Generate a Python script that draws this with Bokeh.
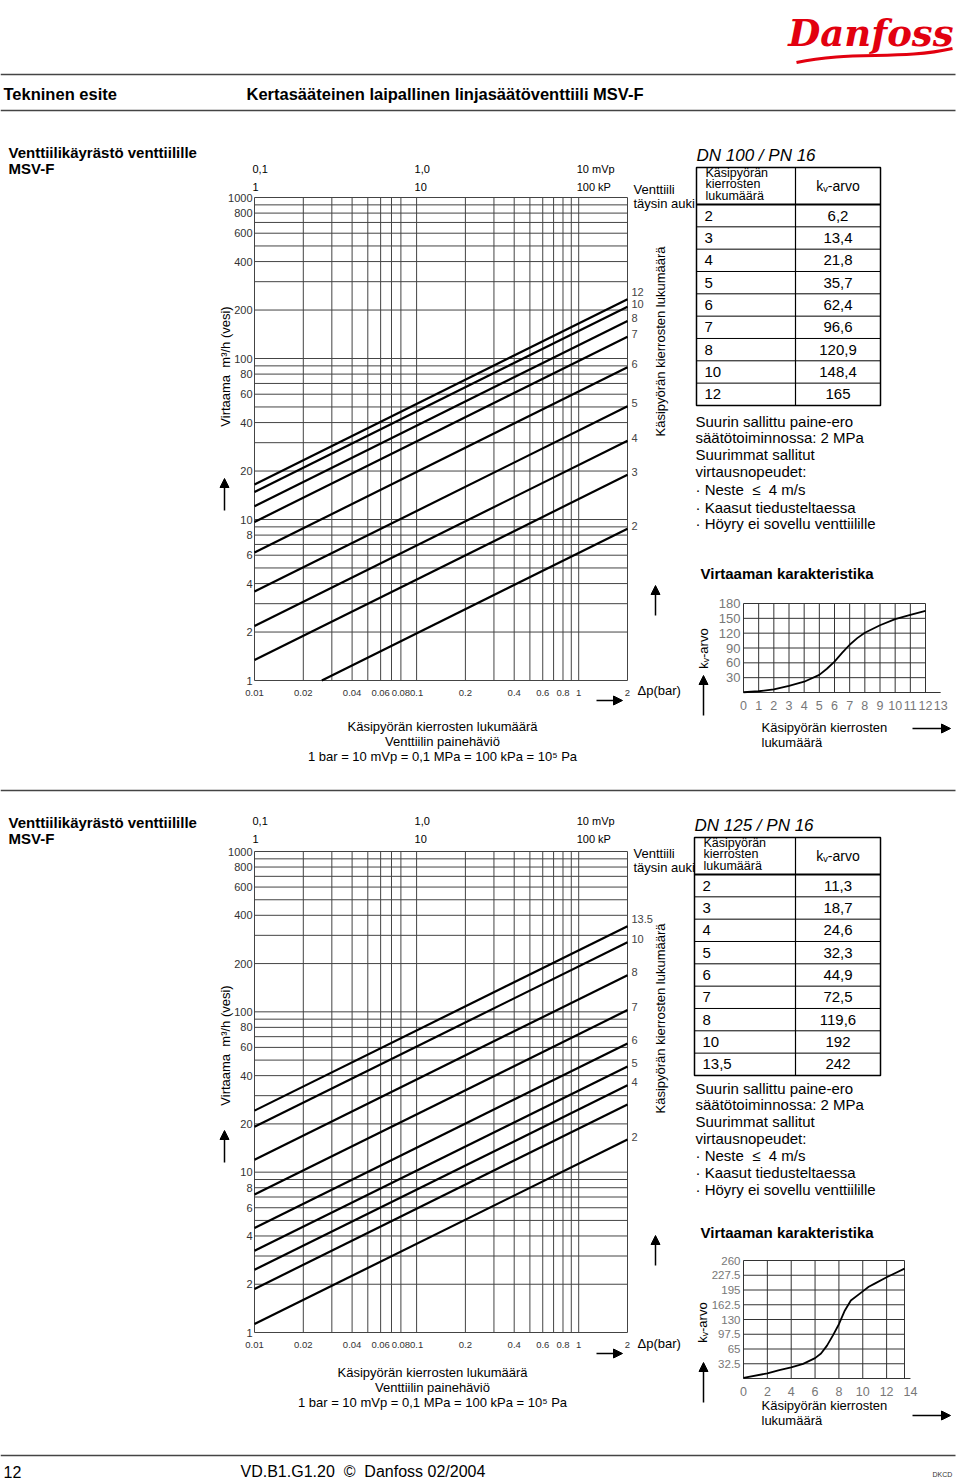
import math
from bokeh.plotting import figure
from bokeh.models import Range1d, LogScale, LinearScale, Arrow, NormalHead
from bokeh.core.properties import value
from bokeh.embed import file_html
from bokeh.resources import INLINE

# ---------------- data ----------------
dn100_turns = ["2", "3", "4", "5", "6", "7", "8", "10", "12"]
dn100_kv = [6.2, 13.4, 21.8, 35.7, 62.4, 96.6, 120.9, 148.4, 165]
dn100_line_labels = ["2", "3", "4", "5", "6", "7", "8", "10", "12"]

dn125_turns = ["2", "3", "4", "5", "6", "7", "8", "10", "13,5"]
dn125_kv = [11.3, 18.7, 24.6, 32.3, 44.9, 72.5, 119.6, 192, 242]
dn125_line_labels = ["2", "", "4", "5", "6", "7", "8", "10", "13.5"]

dp_grid = [0.01, 0.02, 0.03, 0.04, 0.05, 0.06, 0.07, 0.08, 0.1,
           0.2, 0.3, 0.4, 0.5, 0.6, 0.7, 0.8, 0.9, 1, 2]
q_grid = [1, 2, 3, 4, 5, 6, 7, 8, 9, 10, 20, 30, 40, 50, 60, 70, 80, 90,
          100, 200, 300, 400, 500, 600, 700, 800, 900, 1000]
dp_ticks = [0.01, 0.02, 0.04, 0.06, 0.08, 0.1, 0.2, 0.4, 0.6, 0.8, 1, 2]
dp_tick_text = ["0.01", "0.02", "0.04", "0.06", "0.08", "0.1", "0.2", "0.4", "0.6", "0.8", "1", "2"]
q_ticks = [1000, 800, 600, 400, 200, 100, 80, 60, 40, 20, 10, 8, 6, 4, 2, 1]
q_tick_text = ["1000", "800", "600", "400", "200", "100", "80", "60", "40", "20", "10", "8", "6", "4", "2", "1"]
top_dp = [0.01, 0.1, 1]
top_mvp_text = ["0,1", "1,0", "10 mVp"]
top_kpa_text = ["1", "10", "100 kP"]

char100_turns = [0, 1, 2, 3, 4, 5, 5.5, 6, 6.5, 7, 7.5, 8, 9, 10, 11, 12]
char100_kv = [0.5, 2.5, 6.2, 13.4, 21.8, 35.7, 48, 62.4, 80, 96.6, 110, 120.9, 136, 148.4, 157, 165]
char100_xgrid = [0, 1, 2, 3, 4, 5, 6, 7, 8, 9, 10, 11, 12]
char100_ygrid = [0, 30, 60, 90, 120, 150, 180]
char100_xticks = [0, 1, 2, 3, 4, 5, 6, 7, 8, 9, 10, 11, 12, 13]
char100_yticks = [30, 60, 90, 120, 150, 180]
char100_ytick_text = ["30", "60", "90", "120", "150", "180"]

char125_turns = [0, 2, 3, 4, 5, 6, 6.5, 7, 7.5, 8, 8.5, 9, 10, 10.5, 11, 12, 13.5]
char125_kv = [1.5, 11.3, 18.7, 24.6, 32.3, 44.9, 55, 72.5, 95, 119.6, 150, 172, 192, 202, 209, 223, 242]
char125_xgrid = [0, 2, 4, 6, 8, 10, 12, 13.5]
char125_ygrid = [0, 32.5, 65, 97.5, 130, 162.5, 195, 227.5, 260]
char125_xticks = [0, 2, 4, 6, 8, 10, 12, 14]
char125_yticks = [32.5, 65, 97.5, 130, 162.5, 195, 227.5, 260]
char125_ytick_text = ["32.5", "65", "97.5", "130", "162.5", "195", "227.5", "260"]

NB = "\u00a0"
notes = ["Suurin sallittu paine-ero", "säätötoiminnossa: 2 MPa", "Suurimmat sallitut",
         "virtausnopeudet:", "· Neste" + NB * 2 + "≤" + NB * 2 + "4 m/s",
         "· Kaasut tiedusteltaessa", "· Höyry ei sovellu venttiilille"]

# ---------------- figure ----------------
W, H = 960, 1479
FX0, FX1 = 0, W
FY_TOP, FY_BOT = 0, H
p = figure(width=W, height=H, x_range=Range1d(FX0, FX1), y_range=Range1d(FY_BOT, FY_TOP),
           x_axis_type=None, y_axis_type=None, output_backend="svg",
           toolbar_location=None, min_border=0, title=None)
p.outline_line_color = None
p.background_fill_color = "white"

SANS = value("Liberation Sans")
xr, yr, xs_, ys_ = {}, {}, {}, {}


def add_range(name, axis, log, v0, p0, v1, p1):
    if axis == "x":
        a, b = FX0, FX1
    else:
        a, b = FY_BOT, FY_TOP
    f = math.log10 if log else (lambda v: v)
    u0, u1 = f(v0), f(v1)
    k = (u1 - u0) / (p1 - p0)
    s, e = u0 + (a - p0) * k, u0 + (b - p0) * k
    if log:
        rng, sc = Range1d(10 ** s, 10 ** e), LogScale()
    else:
        rng, sc = Range1d(s, e), LinearScale()
    if axis == "x":
        xr[name], xs_[name] = rng, sc
    else:
        yr[name], ys_[name] = rng, sc


def txt(x, y, t, size="13px", font=SANS, align="left", style="normal", color="black",
        angle=0, baseline="middle", **kw):
    p.text(x=x if isinstance(x, list) else [x], y=y if isinstance(y, list) else [y],
           text=t if isinstance(t, list) else [t], text_font=font, text_font_size=size,
           text_align=align, text_baseline=baseline, text_font_style=style,
           text_color=color, angle=angle, **kw)


def hline(x0, x1, y, w=1.5, c="#444"):
    p.segment(x0=[x0], y0=[y], x1=[x1], y1=[y], line_width=w, line_color=c)


def arrow(x0, y0, x1, y1):
    p.add_layout(Arrow(end=NormalHead(size=9, fill_color="black", line_color="black"),
                       x_start=x0, y_start=y0, x_end=x1, y_end=y1,
                       line_width=1.5, line_color="black"))


# ---------------- header / footer ----------------
txt(953, 32, "Danfoss", size="37px", font=value("DejaVu Serif"), align="right",
    style="bold italic", color="#E2000F")
p.bezier(x0=[796], y0=[62], x1=[952], y1=[48], cx0=[850], cy0=[50], cx1=[900], cy1=[60],
         line_color="#E2000F", line_width=3)
hline(0, 955, 74)
txt(3, 93, "Tekninen esite", size="16.5px", style="bold")
txt(246, 93, "Kertasääteinen laipallinen linjasäätöventtiili MSV-F", size="16.5px", style="bold")
hline(0, 955, 110)
hline(0, 955, 790)
hline(0, 955, 1455)
txt(3, 1471, "12", size="16px")
txt(240, 1471, "VD.B1.G1.20" + NB * 2 + "©" + NB * 2 + "Danfoss 02/2004", size="16px")
txt(932, 1474, "DKCD", size="7px", color="#333")


# ---------------- sections ----------------
def section(tag, L, turns, kvs, line_labels, dn_text, ch_t, ch_kv, xgrid, ygrid,
            xticks, yticks, ytick_text, axis_end, ch_xmax, ch_ymax, ch_font):
    # left title
    txt(8, L["title"], "Venttiilikäyrästö venttiilille", size="15px", style="bold")
    txt(8, L["title"] + 16, "MSV-F", size="15px", style="bold")

    # ---- nomogram (log-log) ----
    nx, ny = tag + "nx", tag + "ny"
    add_range(nx, "x", True, 0.01, 254, 2, 627)
    add_range(ny, "y", True, 1, L["nbot"], 1000, L["ntop"])
    kw = dict(x_range_name=nx, y_range_name=ny)
    p.segment(x0=dp_grid, y0=[1] * len(dp_grid), x1=dp_grid, y1=[1000] * len(dp_grid),
              line_color="#444", line_width=1, **kw)
    p.segment(x0=[0.01] * len(q_grid), y0=q_grid, x1=[2] * len(q_grid), y1=q_grid,
              line_color="#444", line_width=1, **kw)
    lx, ly = [], []
    for kv in kvs:
        lo = max(0.01, (1 / kv) ** 2)
        hi = min(2, (1000 / kv) ** 2)
        lx.append([lo, hi])
        ly.append([kv * math.sqrt(lo), kv * math.sqrt(hi)])
    p.multi_line(lx, ly, line_color="black", line_width=2.2, **kw)
    ends = [kv * math.sqrt(2) for kv in kvs]
    nud = [-3] * (len(kvs) - 1) + [-7]
    for e, lab, n in zip(ends, line_labels, nud):
        txt(2, e, lab, size="11px", color="#444", x_offset=4, y_offset=n, **kw)
    txt([0.01] * len(q_ticks), q_ticks, q_tick_text, size="11px",
        color="#333", align="right", x_offset=-2, **kw)
    txt(dp_ticks, [1] * len(dp_ticks), dp_tick_text, size="9.5px",
        color="#333", align="center", y_offset=12, **kw)
    txt(top_dp, [1000] * 3, top_mvp_text, size="11px", x_offset=-2, y_offset=L["top1"], **kw)
    txt(top_dp, [1000] * 3, top_kpa_text, size="11px", x_offset=-2, y_offset=L["top2"], **kw)

    txt(225, L["virt"], "Virtaama" + NB * 2 + "m³/h (vesi)", size="13px", align="center",
        angle=math.pi / 2)
    arrow(224, L["virt_arr"] + 32, 224, L["virt_arr"])
    txt(637, L["dp"], "Δp(bar)", size="13px")
    arrow(596, L["dp"] + 10, 622, L["dp"] + 10)
    txt(660, L["kk"], "Käsipyörän kierrosten lukumäärä", size="13px", align="center",
        angle=math.pi / 2)
    arrow(655, L["up"] + 30, 655, L["up"])
    txt(633, L["vent"], "Venttiili", size="13px")
    txt(633, L["vent"] + 14, "täysin auki", size="13px")
    for i, t in enumerate(["Käsipyörän kierrosten lukumäärä", "Venttiilin painehäviö",
                           "1 bar = 10 mVp = 0,1 MPa = 100 kPa = 10⁵ Pa"]):
        txt(L["bx"], L["btxt"] + i * 15, t, size="13px", align="center")

    # ---- table ----
    tl, td, tr = L["tl"], 795, 880
    tt, th, rh = L["tt"], L["tt"] + 37, 22.33
    tb = th + rh * len(kvs)
    txt(tl, tt - 12, dn_text, size="17px", style="italic")
    p.quad(left=[tl], right=[tr], top=[tt], bottom=[tb], fill_color=None,
           line_color="black", line_width=1.5)
    p.segment(x0=[td], y0=[tt], x1=[td], y1=[tb], line_color="black", line_width=1.2)
    hline(tl, tr, th, w=2, c="black")
    for i in range(1, len(kvs)):
        hline(tl, tr, th + rh * i, w=1, c="black")
    for j, t in enumerate(["Käsipyörän", "kierrosten", "lukumäärä"]):
        txt(tl + 9, tt + 5 + j * 11.5, t, size="12.5px")
    txt((td + tr) / 2, (tt + th) / 2, "kᵥ-arvo", size="14px", align="center")
    for i, (t, kv) in enumerate(zip(turns, kvs)):
        yc = th + rh * (i + 0.5)
        txt(tl + 8, yc, t, size="15px")
        txt((td + tr) / 2, yc, f"{kv:g}".replace(".", ","), size="15px", align="center")
    for i, t in enumerate(notes):
        txt(695, L["notes"][i], t, size="15px")

    # ---- characteristic chart ----
    txt(700, L["vk"], "Virtaaman karakteristika", size="15px", style="bold")
    cx, cy = tag + "cx", tag + "cy"
    add_range(cx, "x", False, 0, 743, ch_xmax, L["cxr"])
    add_range(cy, "y", False, 0, L["cy0"], ch_ymax, L["cyt"])
    ck = dict(x_range_name=cx, y_range_name=cy)
    p.segment(x0=xgrid, y0=[0] * len(xgrid), x1=xgrid, y1=[ch_ymax] * len(xgrid),
              line_color="#333", line_width=1, **ck)
    p.segment(x0=[0] * len(ygrid), y0=ygrid, x1=[ch_xmax] * len(ygrid), y1=ygrid,
              line_color="#333", line_width=1, **ck)
    p.segment(x0=[0], y0=[0], x1=[axis_end], y1=[0], line_color="#333", line_width=1.2, **ck)
    p.line(ch_t, ch_kv, line_color="black", line_width=1.8, **ck)
    txt(xticks, [0] * len(xticks), [str(v) for v in xticks], size="12.5px",
        color="#777", align="center", y_offset=13, **ck)
    txt([0] * len(yticks), yticks, ytick_text, size=ch_font, color="#777",
        align="right", x_offset=-3, **ck)
    txt(L["kvx"], L["kva"], "kᵥ-arvo", size="13px", align="center", angle=math.pi / 2)
    arrow(703, L["kva_arr"] + 40, 703, L["kva_arr"])
    txt(761, L["kt"], "Käsipyörän kierrosten", size="13px")
    txt(761, L["kt"] + 15, "lukumäärä", size="13px")
    arrow(912, L["kt"] + L["ka"], 950, L["kt"] + L["ka"])


L1 = dict(title=152, ntop=197, nbot=680, top1=-29, top2=-11, virt=366, virt_arr=478,
          dp=690, kk=341, up=585, vent=189, bx=442, btxt=726, tl=696, tt=167,
          notes=[421, 437, 454, 471, 489, 507, 523], vk=573, cxr=925, cy0=692, cyt=603,
          kvx=703, kva=648, kva_arr=675, kt=727, ka=1)
L2 = dict(title=822, ntop=851, nbot=1332, top1=-31, top2=-13, virt=1045, virt_arr=1130,
          dp=1343, kk=1018, up=1235, vent=853, bx=432, btxt=1372, tl=694, tt=837,
          notes=[1088, 1104, 1121, 1138, 1155, 1172, 1189], vk=1232, cxr=904, cy0=1378,
          cyt=1260, kvx=702, kva=1322, kva_arr=1362, kt=1405, ka=10)

section("a", L1, dn100_turns, dn100_kv, dn100_line_labels, "DN 100 / PN 16",
        char100_turns, char100_kv, char100_xgrid, char100_ygrid, char100_xticks,
        char100_yticks, char100_ytick_text, 13, 12, 180, "13px")
section("b", L2, dn125_turns, dn125_kv, dn125_line_labels, "DN 125 / PN 16",
        char125_turns, char125_kv, char125_xgrid, char125_ygrid, char125_xticks,
        char125_yticks, char125_ytick_text, 14, 13.5, 260, "11.5px")

p.extra_x_ranges = xr
p.extra_y_ranges = yr
p.extra_x_scales = xs_
p.extra_y_scales = ys_

open("out.html", "w").write(file_html(p, INLINE))
